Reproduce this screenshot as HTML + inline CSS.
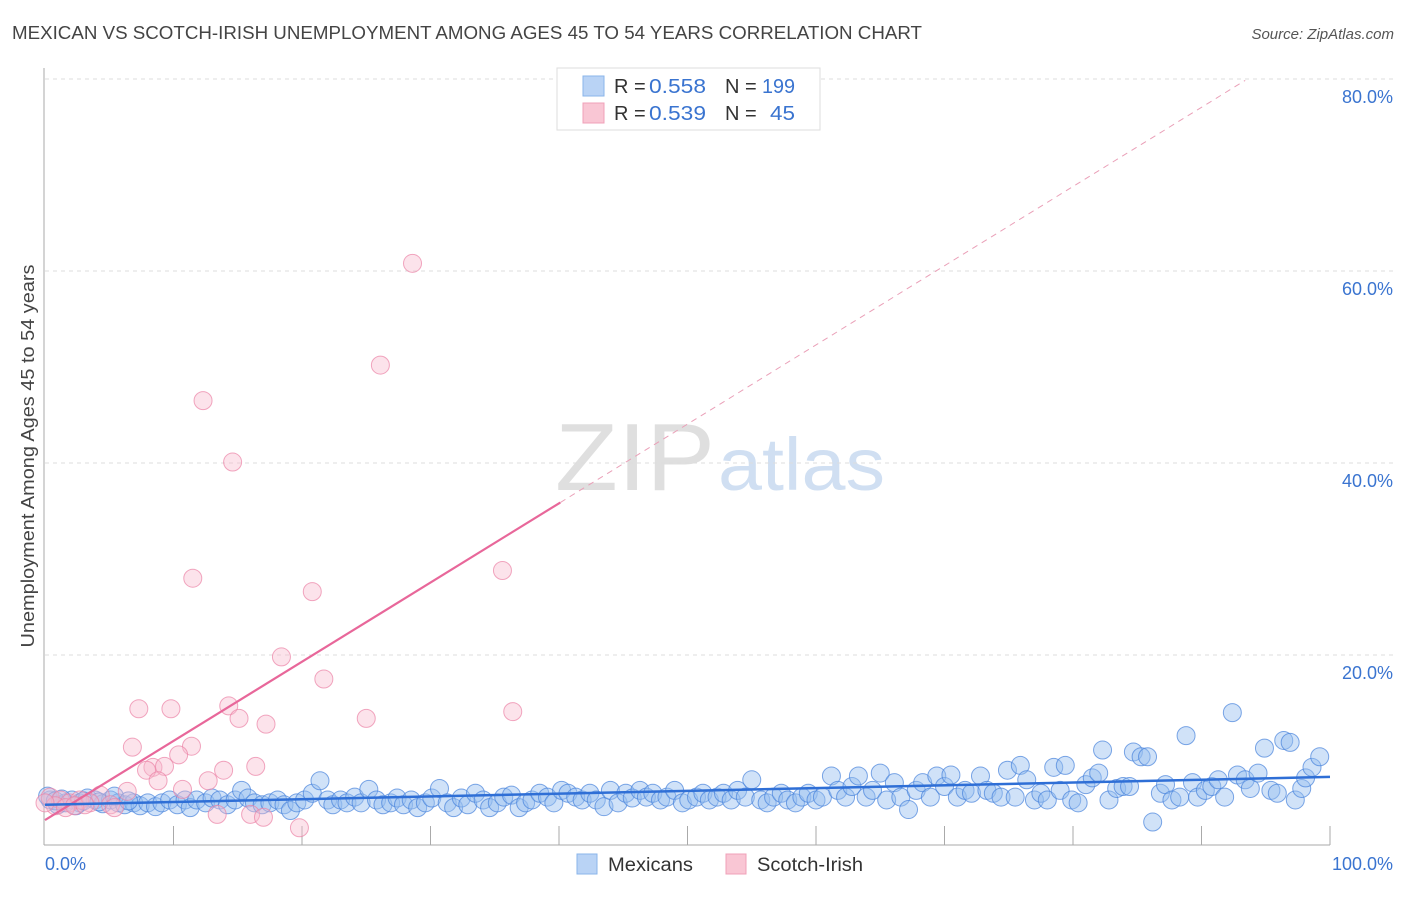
<!DOCTYPE html>
<html><head><meta charset="utf-8"><style>
body{margin:0;background:#fff;font-family:"Liberation Sans",sans-serif;}
svg text{font-family:"Liberation Sans",sans-serif;}
</style></head><body>
<svg id="chart" width="1406" height="892" viewBox="0 0 1406 892">
<text x="12" y="39" font-size="18" fill="#444" textLength="910" lengthAdjust="spacingAndGlyphs">MEXICAN VS SCOTCH-IRISH UNEMPLOYMENT AMONG AGES 45 TO 54 YEARS CORRELATION CHART</text>
<text x="1394" y="39" font-size="15" fill="#555" font-style="italic" text-anchor="end">Source: ZipAtlas.com</text>
<text transform="translate(34,456) rotate(-90)" font-size="18" fill="#444" text-anchor="middle" textLength="383" lengthAdjust="spacingAndGlyphs">Unemployment Among Ages 45 to 54 years</text>
<g><text x="555" y="490" font-size="96" fill="#d8d8d8" font-family="Liberation Serif" textLength="160" lengthAdjust="spacingAndGlyphs" opacity="0.8">ZIP</text><text x="718" y="490" font-size="74" fill="#c5d8ef" textLength="167" lengthAdjust="spacingAndGlyphs" opacity="0.8">atlas</text></g>
<g id="grid"></g><g id="axes"></g><g id="pts"></g><g id="trend"></g>
<g>
<rect x="557" y="68" width="263" height="62" fill="#fff" stroke="#ddd"/>
<rect x="583" y="76" width="21" height="20" fill="#b9d3f5" stroke="#8ab4ea"/>
<rect x="583" y="103" width="21" height="20" fill="#f9c6d4" stroke="#f0a0b8"/>
<text x="614" y="93" font-size="20" fill="#333">R =</text><text x="649" y="93" font-size="20" fill="#3a74d0" textLength="57" lengthAdjust="spacingAndGlyphs">0.558</text>
<text x="725" y="93" font-size="20" fill="#333">N =</text><text x="762" y="93" font-size="20" fill="#3a74d0" textLength="33" lengthAdjust="spacingAndGlyphs">199</text>
<text x="614" y="120" font-size="20" fill="#333">R =</text><text x="649" y="120" font-size="20" fill="#3a74d0" textLength="57" lengthAdjust="spacingAndGlyphs">0.539</text>
<text x="725" y="120" font-size="20" fill="#333">N =</text><text x="770" y="120" font-size="20" fill="#3a74d0" textLength="25" lengthAdjust="spacingAndGlyphs">45</text>
</g>
<g>
<rect x="577" y="854" width="20" height="20" fill="#b9d3f5" stroke="#8ab4ea"/>
<text x="608" y="871" font-size="19" fill="#333" textLength="85" lengthAdjust="spacingAndGlyphs">Mexicans</text>
<rect x="726" y="854" width="20" height="20" fill="#f9c6d4" stroke="#f0a0b8"/>
<text x="757" y="871" font-size="19" fill="#333" textLength="106" lengthAdjust="spacingAndGlyphs">Scotch-Irish</text>
</g>
</svg>
<script>
const yTicks=[20,40,60,80];
const yTickLabels=["20.0%","40.0%","60.0%","80.0%"];
const xEndLabels=["0.0%","100.0%"];
const blue=[[0.4,4.9],[1.0,4.4],[1.6,4.6],[2.1,4.9],[2.7,4.6],[3.3,5.1],[3.9,4.9],[4.5,4.5],[5.1,4.9],[5.7,4.6],[6.2,4.4],[6.9,4.6],[7.4,4.3],[8.0,4.6],[8.6,4.2],[9.1,4.6],[9.7,4.9],[10.3,4.4],[10.9,4.9],[11.3,4.1],[11.8,4.9],[12.5,4.6],[13.0,5.1],[13.6,4.9],[14.2,4.4],[14.8,4.9],[15.3,5.9],[15.8,5.1],[16.3,4.6],[16.9,4.4],[17.5,4.6],[18.1,4.9],[18.6,4.4],[19.1,3.8],[19.6,4.6],[20.2,4.9],[20.8,5.6],[21.4,6.9],[22.0,4.9],[22.4,4.4],[23.0,4.9],[23.5,4.6],[24.1,5.2],[24.6,4.6],[25.2,6.0],[25.8,4.9],[26.3,4.4],[26.9,4.6],[27.4,5.1],[27.9,4.4],[28.5,4.9],[29.0,4.1],[29.6,4.6],[30.1,5.1],[30.7,6.1],[31.3,4.6],[31.8,4.1],[32.4,5.1],[32.9,4.4],[33.5,5.6],[34.1,4.9],[34.6,4.1],[35.2,4.6],[35.7,5.2],[36.3,5.4],[36.9,4.1],[37.4,4.6],[37.9,4.9],[38.5,5.6],[39.1,5.2],[39.6,4.6],[40.2,5.9],[40.7,5.6],[41.3,5.2],[41.8,4.9],[42.4,5.6],[42.9,4.9],[43.5,4.2],[44.0,5.9],[44.6,4.6],[45.2,5.6],[45.7,5.1],[46.3,5.9],[46.8,5.2],[47.3,5.6],[47.9,4.9],[48.4,5.2],[49.0,5.9],[49.6,4.6],[50.1,4.9],[50.7,5.2],[51.2,5.6],[51.7,4.9],[52.3,5.2],[52.8,5.6],[53.4,4.9],[53.9,5.9],[54.5,5.2],[55.0,7.0],[55.7,4.9],[56.2,4.6],[56.7,5.2],[57.3,5.6],[57.8,4.9],[58.4,4.6],[58.9,5.2],[59.4,5.6],[60.0,4.9],[60.5,5.2],[61.2,7.4],[61.7,5.9],[62.3,5.2],[62.8,6.3],[63.3,7.4],[63.9,5.2],[64.4,5.9],[65.0,7.7],[65.5,4.9],[66.1,6.7],[66.6,5.2],[67.2,3.9],[67.8,5.9],[68.3,6.7],[68.9,5.2],[69.4,7.4],[70.0,6.3],[70.5,7.5],[71.0,5.2],[71.6,5.9],[72.1,5.6],[72.8,7.4],[73.3,5.9],[73.8,5.6],[74.4,5.2],[74.9,8.0],[75.5,5.2],[75.9,8.5],[76.4,7.0],[77.0,4.9],[77.5,5.6],[78.0,4.9],[78.5,8.3],[79.0,5.9],[79.4,8.5],[79.9,4.9],[80.4,4.6],[81.0,6.5],[81.5,7.2],[82.0,7.7],[82.3,10.1],[82.8,4.9],[83.4,6.1],[83.9,6.3],[84.4,6.3],[84.7,9.9],[85.3,9.4],[85.8,9.4],[86.2,2.6],[86.8,5.6],[87.2,6.5],[87.7,4.9],[88.3,5.2],[88.8,11.6],[89.3,6.7],[89.7,5.2],[90.3,5.9],[90.8,6.3],[91.3,7.0],[91.8,5.2],[92.4,14.0],[92.8,7.5],[93.4,7.0],[93.8,6.1],[94.4,7.7],[94.9,10.3],[95.4,5.9],[95.9,5.6],[96.4,11.1],[96.9,10.9],[97.3,4.9],[97.8,6.1],[98.1,7.2],[98.6,8.3],[99.2,9.4],[0.2,5.3],[0.8,4.8],[1.3,5.0],[2.4,4.3],[3.0,4.8],[4.2,4.7],[5.4,5.3],[6.5,4.8]];
const pink=[[28.6,60.8],[26.1,50.2],[12.3,46.5],[14.6,40.1],[11.5,28.0],[35.6,28.8],[20.8,26.6],[18.4,19.8],[21.7,17.5],[7.3,14.4],[9.8,14.4],[14.3,14.7],[36.4,14.1],[25.0,13.4],[15.1,13.4],[17.2,12.8],[6.8,10.4],[11.4,10.5],[10.4,9.6],[8.4,8.3],[9.3,8.4],[16.4,8.4],[13.9,8.0],[7.9,8.0],[8.8,6.9],[12.7,6.9],[10.7,6.0],[6.4,5.8],[4.3,5.4],[0.4,5.2],[1.2,4.9],[1.9,4.6],[2.7,4.9],[3.5,4.6],[5.1,4.4],[16.0,3.4],[13.4,3.4],[17.0,3.1],[19.8,2.0],[0.8,4.3],[1.6,4.1],[0.0,4.6],[5.4,4.1],[2.3,4.3],[3.1,4.4]];
const blueTrend=[4.4,7.3];
const pinkTrend=[2.8,85.3];
const X0=45,X1=1330,YB=847,PX=9.6;
const sx=v=>X0+(X1-X0)*v/100, sy=v=>YB-v*PX;
const NS="http://www.w3.org/2000/svg";
function mk(p,t,a){const e=document.createElementNS(NS,t);for(const k in a)e.setAttribute(k,a[k]);p.appendChild(e);return e;}
const grid=document.getElementById('grid'),axes=document.getElementById('axes'),pts=document.getElementById('pts'),tr=document.getElementById('trend');
yTicks.forEach((t,i)=>{
 const l=mk(grid,'line',{x1:X0,x2:1394,y1:sy(t),y2:sy(t),stroke:'#ddd','stroke-dasharray':'4,4'});
 
 
 const tx=mk(axes,'text',{x:1393,y:sy(t)+24,'font-size':18,fill:'#3a74d0','text-anchor':'end'});
 tx.textContent=yTickLabels[i];
 
 
});
const ya=mk(axes,'line',{x1:44,x2:44,y1:68,y2:845,stroke:'#aaa'});


const xa=mk(axes,'line',{x1:44,x2:1330,y1:845,y2:845,stroke:'#aaa'});


for(let i=1;i<=10;i++){const t=mk(axes,'line',{x1:sx(i*10),x2:sx(i*10),y1:826,y2:845,stroke:'#aaa'});
 
 }
const xl0=mk(axes,'text',{x:45,y:870,'font-size':18,fill:'#3a74d0'});xl0.textContent=xEndLabels[0];


const xl1=mk(axes,'text',{x:1393,y:870,'font-size':18,fill:'#3a74d0','text-anchor':'end'});xl1.textContent=xEndLabels[1];


blue.forEach(d=>{const c=mk(pts,'circle',{cx:sx(d[0]),cy:sy(d[1]),r:9,fill:'rgba(150,190,240,0.45)',stroke:'rgba(70,130,220,0.7)','stroke-width':1});
 
 });
pink.forEach(d=>{const c=mk(pts,'circle',{cx:sx(d[0]),cy:sy(d[1]),r:9,fill:'rgba(248,185,205,0.4)',stroke:'rgba(235,130,165,0.7)','stroke-width':1});
 
 });
const pv=x=>pinkTrend[0]+(pinkTrend[1]-pinkTrend[0])*x/100;
const p1=mk(tr,'line',{x1:sx(0),y1:sy(pv(0)),x2:sx(40.1),y2:sy(pv(40.1)),stroke:'#e8679a','stroke-width':2.2});


const p2=mk(tr,'line',{x1:sx(40.1),y1:sy(pv(40.1)),x2:sx(93.4),y2:sy(pv(93.4)),stroke:'#eaa0b8','stroke-width':1,'stroke-dasharray':'6,5'});


const b=mk(tr,'line',{x1:sx(0),y1:sy(blueTrend[0]),x2:sx(100),y2:sy(blueTrend[1]),stroke:'#2f6fd6','stroke-width':2.5});


</script>
</body></html>
